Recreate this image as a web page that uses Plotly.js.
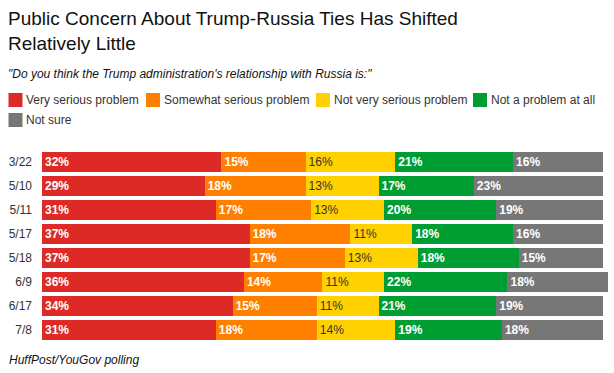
<!DOCTYPE html>
<html>
<head>
<meta charset="utf-8">
<script src="https://cdn.plot.ly/plotly-3.0.1.min.js"></script>
<style>html,body{margin:0;padding:0;background:#fff;}#chart{width:614px;height:373px;}</style>
</head>
<body>
<div id="chart"></div>
<script>
// ---- data ----
const dates = ["3/22", "5/10", "5/11", "5/17", "5/18", "6/9", "6/17", "7/8"];
const seriesNames = ["Very serious problem", "Somewhat serious problem", "Not very serious problem", "Not a problem at all", "Not sure"];
const verySerious     = [32, 29, 31, 37, 37, 36, 34, 31];
const somewhatSerious = [15, 18, 17, 18, 17, 14, 15, 18];
const notVerySerious  = [16, 13, 13, 11, 13, 11, 11, 14];
const notAProblem     = [21, 17, 20, 18, 18, 22, 21, 19];
const notSure         = [16, 23, 19, 16, 15, 18, 19, 18];

const titleText = "Public Concern About Trump-Russia Ties Has Shifted<br>Relatively Little";
const subtitleText = "\"Do you think the Trump administration's relationship with Russia is:\"";
const sourceText = "HuffPost/YouGov polling";

// ---- styles ----
const FONT = "Liberation Sans, Arial, Helvetica, sans-serif";
const colors = ["#de2a26", "#ff7f00", "#ffd100", "#009e32", "#777777"];
const textColors = ["#ffffff", "#ffffff", "#333333", "#ffffff", "#ffffff"];
const textWeights = ["bold", "bold", "normal", "bold", "bold"];
const allSeries = [verySerious, somewhatSerious, notVerySerious, notAProblem, notSure];

const W = 614, H = 373;
const M = {l: 42, r: 5, t: 150, b: 31};
const plotW = W - M.l - M.r, plotH = H - M.t - M.b;
const px = x => (x - M.l) / plotW;
const py = y => (H - M.b - y) / plotH;

const traces = allSeries.map((vals, i) => ({
  type: "bar",
  orientation: "h",
  name: seriesNames[i],
  y: dates,
  x: vals,
  text: vals.map(v => v + "%"),
  textposition: "inside",
  insidetextanchor: "start",
  textangle: 0,
  constraintext: "none",
  insidetextfont: {family: FONT, size: 12, color: textColors[i], weight: textWeights[i]},
  marker: {color: colors[i], line: {width: 0}},
  hoverinfo: "none",
  cliponaxis: false
}));

// manual legend
const legendItems = [
  {x: 8.5, y: 100}, {x: 146, y: 100}, {x: 316, y: 100}, {x: 473, y: 100}, {x: 8.5, y: 120}
];
const shapes = [];
const annotations = [];
legendItems.forEach((it, i) => {
  shapes.push({
    type: "rect", xref: "paper", yref: "paper",
    x0: px(it.x), x1: px(it.x + 14), y0: py(it.y + 7), y1: py(it.y - 7),
    fillcolor: colors[i], line: {width: 0}
  });
  annotations.push({
    xref: "paper", yref: "paper", x: px(it.x + 15.5), y: py(it.y),
    xanchor: "left", yanchor: "middle", showarrow: false,
    text: seriesNames[i], font: {family: FONT, size: 12, color: "#333"}
  });
});
annotations.push({
  xref: "paper", yref: "paper", x: px(6), y: py(73.5),
  xanchor: "left", yanchor: "middle", showarrow: false,
  text: "<i>" + subtitleText + "</i>", font: {family: FONT, size: 12, color: "#111"}
});
annotations.push({
  xref: "paper", yref: "paper", x: px(7), y: py(360),
  xanchor: "left", yanchor: "middle", showarrow: false,
  text: "<i>" + sourceText + "</i>", font: {family: FONT, size: 12, color: "#111"}
});

const layout = {
  width: W, height: H,
  margin: M,
  paper_bgcolor: "#fff", plot_bgcolor: "#fff",
  barmode: "stack",
  bargap: 4 / 24,
  showlegend: false,
  title: {
    text: titleText,
    x: 8 / W, xanchor: "left", xref: "container",
    y: 1 - 25 / H, yanchor: "top", yref: "container",
    font: {family: FONT, size: 19, color: "#111"}
  },
  xaxis: {range: [0, 101.1], visible: false, fixedrange: true},
  yaxis: {
    type: "category", autorange: "reversed",
    showgrid: false, zeroline: false, showline: false, ticks: "",
    tickfont: {family: FONT, size: 12, color: "#333"},
    ticklabelstandoff: 9
  },
  shapes: shapes,
  annotations: annotations,
  font: {family: FONT}
};

Plotly.newPlot("chart", traces, layout, {displayModeBar: false, staticPlot: true});
</script>
</body>
</html>
